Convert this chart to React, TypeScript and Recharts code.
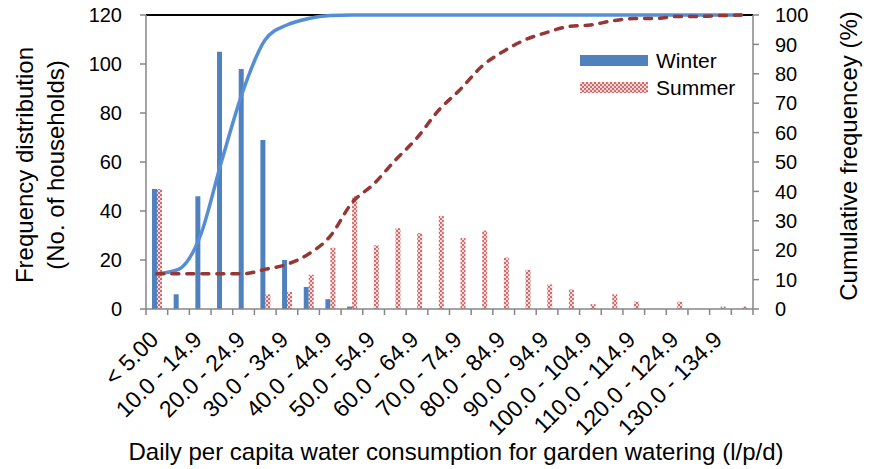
import React from 'react';
import { ComposedChart, Bar, Line, XAxis, YAxis, Legend, ReferenceLine } from 'recharts';

const categories = [
  '< 5.00', '5.00 - 9.9', '10.0 - 14.9', '15.0 - 19.9', '20.0 - 24.9', '25.0 - 29.9',
  '30.0 - 34.9', '35.0 - 39.9', '40.0 - 44.9', '45.0 - 49.9', '50.0 - 54.9', '55.0 - 59.9',
  '60.0 - 64.9', '65.0 - 69.9', '70.0 - 74.9', '75.0 - 79.9', '80.0 - 84.9', '85.0 - 89.9',
  '90.0 - 94.9', '95.0 - 99.9', '100.0 - 104.9', '105.0 - 109.9', '110.0 - 114.9',
  '115.0 - 119.9', '120.0 - 124.9', '125.0 - 129.9', '130.0 - 134.9', '> 135.0',
];
const winterFreq = [49, 6, 46, 105, 98, 69, 20, 9, 4, 1, 0, 0, 0, 0, 0, 0, 0, 0, 0, 0, 0, 0, 0, 0, 0, 0, 0, 0];
const summerFreq = [49, 0, 0, 0, 0, 6, 7, 14, 25, 46, 26, 33, 31, 38, 29, 32, 21, 16, 10, 8, 2, 6, 3, 0, 3, 0, 1, 1];
const winterCum = [12.0, 13.5, 24.8, 50.6, 74.7, 91.6, 96.6, 98.8, 99.8, 100, 100, 100, 100, 100, 100, 100, 100, 100, 100, 100, 100, 100, 100, 100, 100, 100, 100, 100];
const summerCum = [12.0, 12.0, 12.0, 12.0, 12.0, 13.5, 15.2, 18.7, 24.8, 36.1, 42.5, 50.6, 58.2, 67.6, 74.7, 82.6, 87.7, 91.6, 94.1, 96.1, 96.6, 98.0, 98.8, 98.8, 99.5, 99.5, 99.8, 100];
const leftTicks = [0, 20, 40, 60, 80, 100, 120];
const rightTicks = [0, 10, 20, 30, 40, 50, 60, 70, 80, 90, 100];

const data = categories.map((c, i) => ({
  cat: c,
  winter: winterFreq[i],
  summer: summerFreq[i],
  winterCum: winterCum[i],
  summerCum: summerCum[i],
}));

const FONT = '"Liberation Sans", Arial, sans-serif';
const W = 875;
const H = 469;
const PLOT_LEFT = 146;
const PLOT_RIGHT = 753;
const PLOT_TOP = 15;
const PLOT_BOTTOM = 309;
const BAND = (PLOT_RIGHT - PLOT_LEFT) / categories.length;
const AXIS_GRAY = '#868686';

function XTick(props: any) {
  const { x, y, index, payload } = props;
  const lx = x + 3;
  const ly = y + 32;
  return (
    <g>
      <line x1={x - BAND / 2} x2={x - BAND / 2} y1={y} y2={y + 6} stroke={AXIS_GRAY} strokeWidth={1.5} />
      {index === categories.length - 1 && (
        <line x1={x + BAND / 2} x2={x + BAND / 2} y1={y} y2={y + 6} stroke={AXIS_GRAY} strokeWidth={1.5} />
      )}
      {index % 2 === 0 && (
        <text
          x={lx}
          y={ly}
          transform={`rotate(-45, ${lx}, ${ly})`}
          textAnchor="end"
          fontSize={23}
          fontFamily={FONT}
          fill="#000"
        >
          {payload.value}
        </text>
      )}
    </g>
  );
}

function Titles() {
  return (
    <g fontFamily={FONT} fontSize={24} fill="#000">
      <text transform="translate(33,165) rotate(-90)" textAnchor="middle">Frequency distribution</text>
      <text transform="translate(64,165) rotate(-90)" textAnchor="middle">(No. of households)</text>
      <text transform="translate(857,156) rotate(-90)" textAnchor="middle">Cumulative frequencey (%)</text>
      <text x={456} y={460} textAnchor="middle">Daily per capita water consumption for garden watering (l/p/d)</text>
    </g>
  );
}

function renderLegend() {
  return (
    <div style={{ fontFamily: FONT, fontSize: 21, color: '#000' }}>
      <div style={{ display: 'flex', alignItems: 'center', height: 27 }}>
        <svg width={68} height={11} style={{ display: 'block' }}>
          <rect width={68} height={11} fill="#4F81BD" />
        </svg>
        <span style={{ marginLeft: 8 }}>Winter</span>
      </div>
      <div style={{ display: 'flex', alignItems: 'center', height: 27 }}>
        <svg width={68} height={11} style={{ display: 'block' }}>
          <defs>
            <pattern id="checkLegend" width={4} height={4} patternUnits="userSpaceOnUse">
              <rect width={4} height={4} fill="#D46A6A" />
              <rect x={0} y={0} width={2} height={2} fill="#F6DADA" />
              <rect x={2} y={2} width={2} height={2} fill="#F6DADA" />
            </pattern>
          </defs>
          <rect width={68} height={11} fill="url(#checkLegend)" />
        </svg>
        <span style={{ marginLeft: 8 }}>Summer</span>
      </div>
    </div>
  );
}

export default function App() {
  return (
    <div style={{ position: 'absolute', left: 0, top: 0, width: W, height: H, background: '#fff' }}>
      <ComposedChart
        width={W}
        height={H}
        data={data}
        margin={{ top: PLOT_TOP, right: 0, bottom: 0, left: 0 }}
        barGap={0}
      >
        <defs>
          <pattern id="checkSummer" width={4} height={4} patternUnits="userSpaceOnUse">
            <rect width={4} height={4} fill="#D46A6A" />
            <rect x={0} y={0} width={2} height={2} fill="#F6DADA" />
            <rect x={2} y={2} width={2} height={2} fill="#F6DADA" />
          </pattern>
        </defs>
        <XAxis
          dataKey="cat"
          interval={0}
          height={H - PLOT_BOTTOM}
          tickSize={0}
          tickMargin={0}
          tickLine={false}
          tick={<XTick />}
          axisLine={{ stroke: AXIS_GRAY, strokeWidth: 1.5 }}
        />
        <YAxis
          yAxisId="left"
          width={PLOT_LEFT}
          domain={[0, 120]}
          ticks={leftTicks}
          tickSize={6}
          tickMargin={18}
          tick={{ fontSize: 20, fontFamily: FONT, fill: '#000' }}
          axisLine={{ stroke: AXIS_GRAY, strokeWidth: 1.5 }}
          tickLine={{ stroke: AXIS_GRAY, strokeWidth: 1.5 }}
          label={<Titles />}
        />
        <YAxis
          yAxisId="right"
          orientation="right"
          width={W - PLOT_RIGHT}
          domain={[0, 100]}
          ticks={rightTicks}
          tickSize={6}
          tickMargin={16}
          tick={{ fontSize: 20, fontFamily: FONT, fill: '#000', textAnchor: 'start' }}
          axisLine={{ stroke: AXIS_GRAY, strokeWidth: 1.5 }}
          tickLine={{ stroke: AXIS_GRAY, strokeWidth: 1.5 }}
        />
        <ReferenceLine yAxisId="left" y={120} stroke="#000" strokeWidth={2} ifOverflow="extendDomain" />
        <Bar yAxisId="left" dataKey="winter" name="Winter" fill="#4F81BD" barSize={5} isAnimationActive={false} />
        <Bar yAxisId="left" dataKey="summer" name="Summer" fill="url(#checkSummer)" barSize={5} isAnimationActive={false} />
        <Line
          yAxisId="right"
          type="monotone"
          dataKey="winterCum"
          stroke="#558ED5"
          strokeWidth={3.5}
          dot={false}
          activeDot={false}
          legendType="none"
          isAnimationActive={false}
        />
        <Line
          yAxisId="right"
          type="monotone"
          dataKey="summerCum"
          stroke="#953735"
          strokeWidth={3.5}
          strokeDasharray="7 8"
          strokeLinecap="round"
          dot={false}
          activeDot={false}
          legendType="none"
          isAnimationActive={false}
        />
        <Legend
          layout="horizontal"
          align="center"
          verticalAlign="middle"
          content={renderLegend}
          wrapperStyle={{ position: 'absolute', left: 580, top: 47, width: 180, height: 60 }}
        />
      </ComposedChart>
    </div>
  );
}
